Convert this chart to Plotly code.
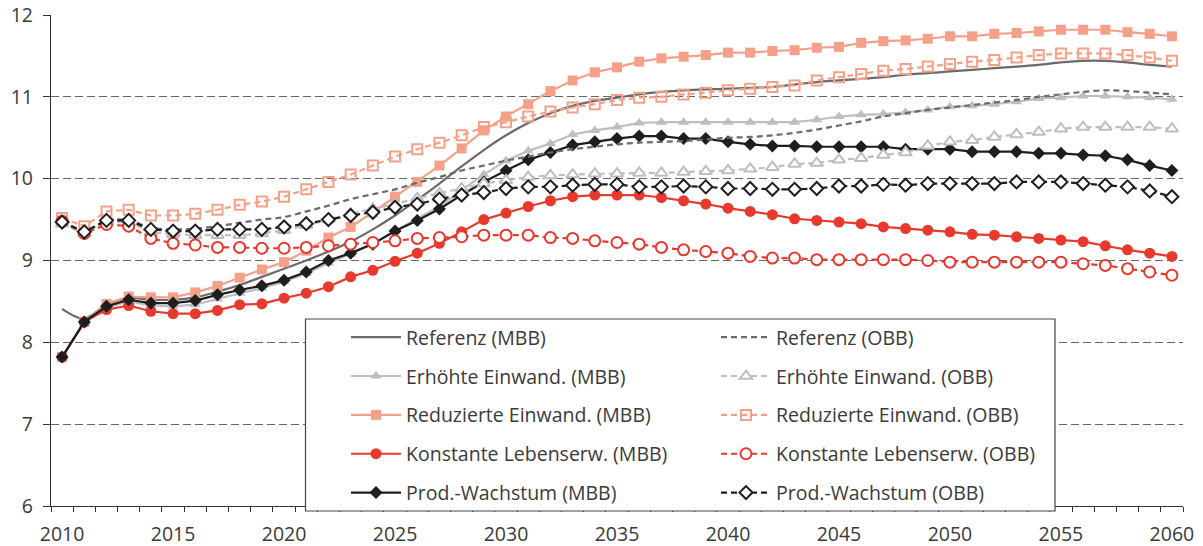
import plotly.graph_objects as go

years = list(range(2010, 2061))

referenz_mbb = [8.41, 8.29, 8.46, 8.54, 8.52, 8.52, 8.55, 8.62, 8.70, 8.80,
                8.90, 9.00, 9.11, 9.23, 9.38, 9.55, 9.74, 9.94, 10.15, 10.35,
                10.53, 10.68, 10.80, 10.89, 10.95, 10.99, 11.03, 11.06, 11.08, 11.09,
                11.10, 11.11, 11.12, 11.15, 11.18, 11.20, 11.22, 11.24, 11.27, 11.29,
                11.31, 11.33, 11.35, 11.37, 11.39, 11.42, 11.44, 11.44, 11.42, 11.39, 11.37]
referenz_obb = [9.47, 9.36, 9.49, 9.49, 9.40, 9.38, 9.39, 9.42, 9.46, 9.50,
                9.53, 9.60, 9.67, 9.75, 9.81, 9.87, 9.95, 10.02, 10.10, 10.16,
                10.22, 10.27, 10.32, 10.36, 10.39, 10.42, 10.44, 10.45, 10.46, 10.48,
                10.50, 10.51, 10.53, 10.56, 10.60, 10.65, 10.70, 10.76, 10.80, 10.84,
                10.87, 10.90, 10.93, 10.96, 11.00, 11.03, 11.06, 11.08, 11.07, 11.05, 11.03]
erhoehte_mbb = [7.82, 8.24, 8.43, 8.50, 8.45, 8.44, 8.46, 8.53, 8.60, 8.66,
                8.74, 8.84, 8.97, 9.08, 9.21, 9.36, 9.51, 9.66, 9.86, 10.05,
                10.22, 10.34, 10.43, 10.54, 10.59, 10.63, 10.68, 10.69, 10.69, 10.69,
                10.69, 10.69, 10.69, 10.69, 10.72, 10.76, 10.78, 10.79, 10.81, 10.84,
                10.88, 10.89, 10.91, 10.94, 10.98, 10.99, 11.01, 11.01, 11.00, 10.99, 10.97]
erhoehte_obb = [9.45, 9.33, 9.47, 9.47, 9.35, 9.32, 9.31, 9.31, 9.31, 9.33,
                9.37, 9.43, 9.50, 9.57, 9.63, 9.69, 9.76, 9.82, 9.88, 9.94,
                9.98, 10.02, 10.04, 10.05, 10.06, 10.06, 10.07, 10.07, 10.08, 10.09,
                10.10, 10.12, 10.14, 10.18, 10.19, 10.23, 10.25, 10.29, 10.32, 10.40,
                10.45, 10.47, 10.51, 10.54, 10.57, 10.61, 10.63, 10.63, 10.63, 10.63, 10.61]
reduzierte_mbb = [7.82, 8.25, 8.47, 8.56, 8.55, 8.55, 8.61, 8.69, 8.79, 8.89,
                  8.98, 9.12, 9.28, 9.41, 9.59, 9.78, 9.96, 10.16, 10.37, 10.59,
                  10.76, 10.91, 11.07, 11.20, 11.30, 11.36, 11.43, 11.47, 11.49, 11.51,
                  11.54, 11.54, 11.56, 11.57, 11.60, 11.61, 11.66, 11.68, 11.69, 11.71,
                  11.74, 11.74, 11.77, 11.78, 11.80, 11.82, 11.82, 11.82, 11.79, 11.77, 11.74]
reduzierte_obb = [9.52, 9.42, 9.60, 9.62, 9.55, 9.55, 9.57, 9.62, 9.68, 9.72,
                  9.78, 9.87, 9.96, 10.05, 10.16, 10.27, 10.36, 10.44, 10.53, 10.63,
                  10.69, 10.76, 10.82, 10.87, 10.91, 10.96, 10.99, 11.00, 11.03, 11.05,
                  11.08, 11.10, 11.12, 11.14, 11.20, 11.24, 11.28, 11.32, 11.34, 11.37,
                  11.40, 11.43, 11.45, 11.48, 11.51, 11.53, 11.53, 11.53, 11.51, 11.48, 11.44]
konstante_mbb = [7.82, 8.25, 8.40, 8.45, 8.38, 8.35, 8.35, 8.39, 8.46, 8.47,
                 8.54, 8.60, 8.68, 8.80, 8.88, 8.99, 9.09, 9.21, 9.35, 9.50,
                 9.58, 9.66, 9.73, 9.78, 9.80, 9.80, 9.80, 9.77, 9.73, 9.69,
                 9.64, 9.60, 9.56, 9.51, 9.49, 9.47, 9.45, 9.41, 9.39, 9.37,
                 9.35, 9.32, 9.31, 9.29, 9.27, 9.25, 9.23, 9.18, 9.13, 9.09, 9.05]
konstante_obb = [9.48, 9.33, 9.44, 9.42, 9.27, 9.21, 9.19, 9.16, 9.16, 9.15,
                 9.15, 9.16, 9.18, 9.20, 9.22, 9.24, 9.27, 9.28, 9.29, 9.31,
                 9.31, 9.31, 9.28, 9.27, 9.24, 9.22, 9.20, 9.16, 9.13, 9.11,
                 9.09, 9.05, 9.03, 9.03, 9.01, 9.01, 9.01, 9.01, 9.01, 9.00,
                 8.98, 8.98, 8.98, 8.98, 8.98, 8.98, 8.96, 8.94, 8.90, 8.86, 8.82]
prod_mbb = [7.82, 8.25, 8.44, 8.52, 8.48, 8.48, 8.51, 8.58, 8.64, 8.69,
            8.76, 8.86, 9.00, 9.09, 9.20, 9.36, 9.49, 9.63, 9.80, 9.96,
            10.10, 10.23, 10.32, 10.41, 10.45, 10.49, 10.52, 10.52, 10.49, 10.49,
            10.45, 10.42, 10.40, 10.40, 10.39, 10.39, 10.39, 10.39, 10.36, 10.36,
            10.36, 10.33, 10.33, 10.33, 10.31, 10.31, 10.29, 10.28, 10.23, 10.16, 10.10]
prod_obb = [9.47, 9.35, 9.49, 9.49, 9.38, 9.36, 9.36, 9.38, 9.38, 9.38,
            9.41, 9.45, 9.50, 9.55, 9.59, 9.65, 9.69, 9.75, 9.80, 9.83,
            9.88, 9.90, 9.90, 9.92, 9.93, 9.93, 9.90, 9.90, 9.91, 9.90,
            9.88, 9.88, 9.87, 9.87, 9.88, 9.91, 9.91, 9.93, 9.92, 9.94,
            9.94, 9.94, 9.94, 9.96, 9.96, 9.96, 9.94, 9.92, 9.90, 9.85, 9.78]

x_tick_vals = [2010, 2015, 2020, 2025, 2030, 2035, 2040, 2045, 2050, 2055, 2060]
x_tick_text = [str(v) for v in x_tick_vals]
y_tick_vals = [6, 7, 8, 9, 10, 11, 12]

names_mbb = ["Referenz (MBB)", "Erhöhte Einwand. (MBB)", "Reduzierte Einwand. (MBB)",
             "Konstante Lebenserw. (MBB)", "Prod.-Wachstum (MBB)"]
names_obb = ["Referenz (OBB)", "Erhöhte Einwand. (OBB)", "Reduzierte Einwand. (OBB)",
             "Konstante Lebenserw. (OBB)", "Prod.-Wachstum (OBB)"]

C_REF = "#6b6b6b"
C_ERH = "#bdbec2"
C_RED = "#f5a089"
C_KON = "#e8392f"
C_PRO = "#1e1e1e"
DASH = "6px,4px"

FONT = "Open Sans"
TXT = "#3a3a3a"

fig = go.Figure()

mbb_series = [
    (referenz_mbb, C_REF, None, 0, "spline"),
    (erhoehte_mbb, C_ERH, "triangle-up", 10, "linear"),
    (reduzierte_mbb, C_RED, "square", 10, "linear"),
    (konstante_mbb, C_KON, "circle", 11, "linear"),
    (prod_mbb, C_PRO, "diamond", 10, "linear"),
]
obb_series = [
    (referenz_obb, C_REF, None, 0, "spline"),
    (erhoehte_obb, C_ERH, "triangle-up", 11, "linear"),
    (reduzierte_obb, C_RED, "square-open", 10, "linear"),
    (konstante_obb, C_KON, "circle", 11, "linear"),
    (prod_obb, C_PRO, "diamond", 10, "linear"),
]

for i, (vals, col, sym, size, shape) in enumerate(mbb_series):
    if sym is None:
        fig.add_trace(go.Scatter(x=years, y=vals, mode="lines", name=names_mbb[i],
                                 line=dict(color=col, width=2.2, shape=shape),
                                 legend="legend", legendgroup="m%d" % i))
    else:
        fig.add_trace(go.Scatter(x=years, y=vals, mode="lines+markers", name=names_mbb[i],
                                 line=dict(color=col, width=2.2, shape=shape),
                                 marker=dict(symbol=sym, size=size, color=col,
                                             line=dict(color=col, width=0)),
                                 legend="legend", legendgroup="m%d" % i))

for i, (vals, col, sym, size, shape) in enumerate(obb_series):
    if sym is None:
        fig.add_trace(go.Scatter(x=years, y=vals, mode="lines", name=names_obb[i],
                                 line=dict(color=col, width=2.2, dash=DASH, shape=shape),
                                 legend="legend2", legendgroup="o%d" % i))
    else:
        fill = col if sym.endswith("-open") else "white"
        fig.add_trace(go.Scatter(x=years, y=vals, mode="lines+markers", name=names_obb[i],
                                 line=dict(color=col, width=2.2, dash=DASH, shape=shape),
                                 marker=dict(symbol=sym, size=size, color=fill,
                                             line=dict(color=col, width=2)),
                                 legend="legend2", legendgroup="o%d" % i))

W, H = 1203, 546
L, R, T, B = 51, 20, 15, 40
pw, ph = W - L - R, H - T - B

def px(xp):
    return (xp - L) / pw

def py(yp):
    return (H - B - yp) / ph

fig.add_shape(type="rect", xref="paper", yref="paper",
              x0=px(305.5), x1=px(1055), y0=py(511), y1=py(319),
              fillcolor="white", line=dict(color="#444444", width=1.2), layer="above")

legend_common = dict(bgcolor="rgba(0,0,0,0)", borderwidth=0, orientation="v",
                     font=dict(family=FONT, size=19.5, color=TXT),
                     itemwidth=50, tracegroupgap=10.5, yanchor="top", xanchor="left",
                     itemclick=False, itemdoubleclick=False)

fig.update_layout(
    width=W, height=H,
    margin=dict(l=L, r=R, t=T, b=B, autoexpand=False),
    paper_bgcolor="white", plot_bgcolor="white",
    font=dict(family=FONT, size=19.5, color=TXT),
    showlegend=True,
    hovermode=False,
    legend=dict(x=px(346), y=py(318), **legend_common),
    legend2=dict(x=px(716), y=py(318), **legend_common),
    xaxis=dict(range=[2009.5, 2060.5], tickmode="array", tickvals=x_tick_vals,
               ticktext=x_tick_text, ticks="", showgrid=False, zeroline=False,
               showline=True, linecolor="#333333", linewidth=1.3,
               ticklabelstandoff=10, ticklabeloverflow="allow",
               minor=dict(tick0=2009.5, dtick=1, ticks="outside", ticklen=5,
                          tickcolor="#333333", tickwidth=1.2, showgrid=False),
               tickfont=dict(family=FONT, size=19.5, color=TXT)),
    yaxis=dict(range=[6, 12], tickmode="array", tickvals=y_tick_vals,
               ticks="outside", ticklen=7, tickcolor="#333333", tickwidth=1.2,
               showgrid=True, gridcolor="#666666", gridwidth=1, griddash="8px,4px",
               zeroline=False, showline=True, linecolor="#333333", linewidth=1.3,
               ticklabelstandoff=6, ticklabeloverflow="allow",
               tickfont=dict(family=FONT, size=19.5, color=TXT)),
)

# remove the browser's default 8px page margin so the figure fills the window
fig.write_html("out.html",
               config={"displayModeBar": False, "staticPlot": False},
               post_script="document.body.style.margin='0';"
                           "document.body.style.overflow='hidden';")
